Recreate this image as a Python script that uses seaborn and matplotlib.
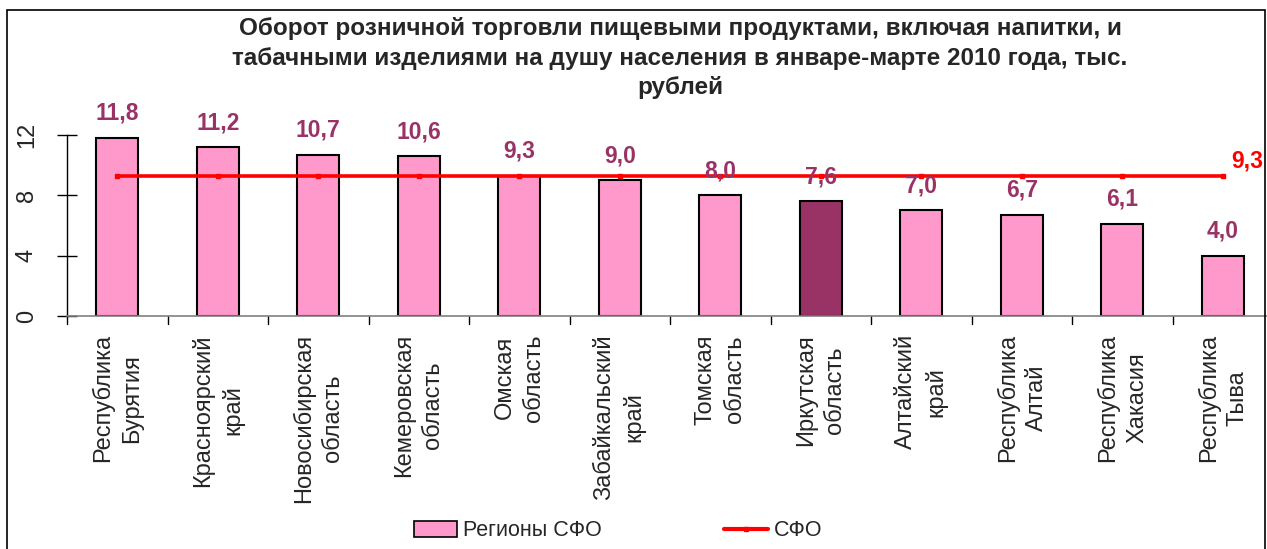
import numpy as np
import pandas as pd
import matplotlib
matplotlib.use("Agg")
import matplotlib.pyplot as plt
import seaborn as sns
from matplotlib.patches import Patch, Rectangle
from matplotlib.lines import Line2D

regions = ["Республика\nБурятия", "Красноярский\nкрай", "Новосибирская\nобласть",
           "Кемеровская\nобласть", "Омская\nобласть", "Забайкальский\nкрай",
           "Томская\nобласть", "Иркутская\nобласть", "Алтайский\nкрай",
           "Республика\nАлтай", "Республика\nХакасия", "Республика\nТыва"]
values = [11.8, 11.2, 10.7, 10.6, 9.3, 9.0, 8.0, 7.6, 7.0, 6.7, 6.1, 4.0]
value_labels = ["11,8", "11,2", "10,7", "10,6", "9,3", "9,0", "8,0", "7,6", "7,0", "6,7", "6,1", "4,0"]
sfo_values = [9.3] * 12
sfo_label = "9,3"
yticks = [0, 4, 8, 12]
title = ("Оборот розничной торговли пищевыми продуктами, включая напитки, и\n"
         "табачными изделиями на душу населения в январе-марте 2010 года, тыс.\n"
         "рублей")

sns.set_theme(style="white")
plt.rcParams['font.family'] = ['Liberation Sans', 'DejaVu Sans']

W, H = 1267, 549
fig = plt.figure(figsize=(W / 100, H / 100), dpi=100)
ax = fig.add_axes([67 / W, (H - 316) / H, (1273 - 67) / W, (316 - 135) / H])

pink = "#FF99CC"
dark = "#993366"
colors = [dark if r.startswith("Иркутская") else pink for r in regions]
df = pd.DataFrame({"region": regions, "value": values})

sns.barplot(data=df, x="region", y="value", hue="region", palette=colors,
            legend=False, width=0.42, edgecolor="black", linewidth=1.5,
            saturation=1, ax=ax)

n = len(regions)
ax.plot(np.arange(n), sfo_values, color="#FF0000", linewidth=2.6,
        marker="s", markersize=2.5, zorder=4)

for i, (v, lab) in enumerate(zip(values, value_labels)):
    ax.annotate(lab, (i, v), xytext=(0, 13), textcoords="offset points",
                ha="center", va="baseline", fontsize=16.5, fontweight="bold",
                color=dark, zorder=5)
ax.annotate(sfo_label, (n - 1, sfo_values[-1]), xytext=(6, 2),
            textcoords="offset points", ha="left", va="bottom",
            fontsize=16.5, fontweight="bold", color="#FF0000",
            annotation_clip=False)

ax.set_xlim(-0.5, n - 0.5)
ax.set_ylim(0, 12)
ax.set_yticks(yticks)
ax.set_yticklabels([str(t) for t in yticks], rotation=90, va="center", fontsize=17)
ax.set_xlabel("")
ax.set_ylabel("")

# x ticks at category boundaries
ax.set_xticks(np.arange(n))
ax.set_xticklabels(regions, rotation=90, fontsize=17, linespacing=1.4,
                   multialignment="center", va="top", ha="center")
ax.tick_params(axis="x", length=0, pad=13)
for b in np.arange(n + 1) - 0.5:
    ax.plot([b, b], [0, -0.55], color="black", linewidth=1, clip_on=False, zorder=1)

ax.tick_params(axis="y", direction="inout", length=14, width=1, color="black", pad=14,
               left=True)
for s in ["top", "right"]:
    ax.spines[s].set_visible(False)
ax.spines["left"].set_color("black")
ax.spines["left"].set_linewidth(1)
ax.spines["bottom"].set_color("#808080")
ax.spines["bottom"].set_linewidth(1.2)

fig.text(680 / W, 1 - 17 / H, title, ha="center", va="top", fontsize=17.5,
         fontweight="bold", linespacing=1.37)

handles = [Patch(facecolor=pink, edgecolor="black", linewidth=1.2),
           Line2D([0], [0], color="#FF0000", linewidth=3, marker="s", markersize=2.5)]
fig.legend(handles, ["Регионы СФО", "СФО"], loc="center",
           bbox_to_anchor=(618 / W, 1 - 531 / H), ncol=2, frameon=False,
           fontsize=15.5, columnspacing=5.7, handlelength=2.0, handletextpad=0.3,
           handleheight=0.7)

fig.patches.append(Rectangle((7 / W, -0.05), (1265 - 7) / W, (H - 10) / H + 0.05,
                             transform=fig.transFigure, fill=False,
                             edgecolor="black", linewidth=1.2))

fig.savefig("out.png", dpi=100)
